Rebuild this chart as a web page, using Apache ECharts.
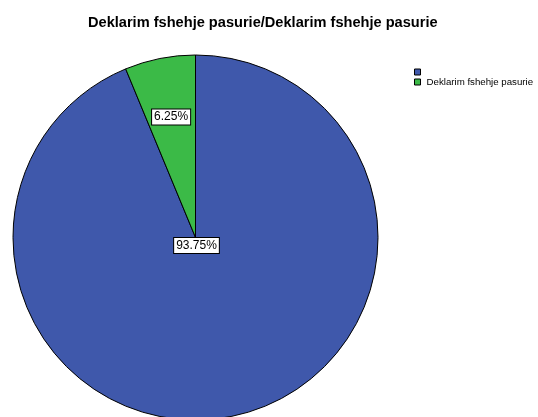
<!DOCTYPE html>
<html><head><meta charset="utf-8">
<script src="https://cdn.jsdelivr.net/npm/echarts@6/dist/echarts.min.js"></script>
<style>html,body{margin:0;padding:0;background:#fff}#c{width:538px;height:417px}</style>
</head><body><div id="c"></div>
<script>
const titleText = 'Deklarim fshehje pasurie/Deklarim fshehje pasurie';
const categories = [' ', 'Deklarim fshehje pasurie'];
const values = [93.75, 6.25];
const colors = ['#3f58ab', '#3bba47'];

const chart = echarts.init(document.getElementById('c'), null, {renderer: 'canvas'});
const labelBase = {
  show: true, rotate: 0, formatter: '{d}%', color: '#000',
  fontFamily: 'Liberation Sans, Arial, sans-serif', fontSize: 12,
  backgroundColor: '#fff', borderColor: '#000', borderWidth: 1, padding: [2, 2, 1, 2]
};
chart.setOption({
  backgroundColor: '#fff',
  animation: false,
  title: {
    text: titleText, left: 83, top: 10,
    textStyle: {fontFamily: 'Liberation Sans, Arial, sans-serif', fontSize: 14.6, fontWeight: 'bold', color: '#000'}
  },
  legend: {
    orient: 'vertical', left: 414, top: 67, padding: 0, itemWidth: 6, itemHeight: 6, itemGap: 0,
    icon: 'rect', data: categories,
    textStyle: {fontFamily: 'Liberation Sans, Arial, sans-serif', fontSize: 9.7, lineHeight: 10, color: '#000', padding: [0,0,0,1]},
    itemStyle: {borderColor: '#000', borderWidth: 1}
  },
  series: [{
    type: 'pie', center: [195.5, 237.5], radius: 182.5, startAngle: 90, clockwise: true,
    labelLine: {show: false},
    itemStyle: {borderColor: '#000', borderWidth: 1},
    data: categories.map((n, i) => ({
      name: n, value: values[i], itemStyle: {color: colors[i]},
      label: Object.assign({}, labelBase, i === 0 ? {position: 'center', offset: [1, 8]} : {position: 'inside', offset: [-6, -28]})
    }))
  }]
});
</script></body></html>
